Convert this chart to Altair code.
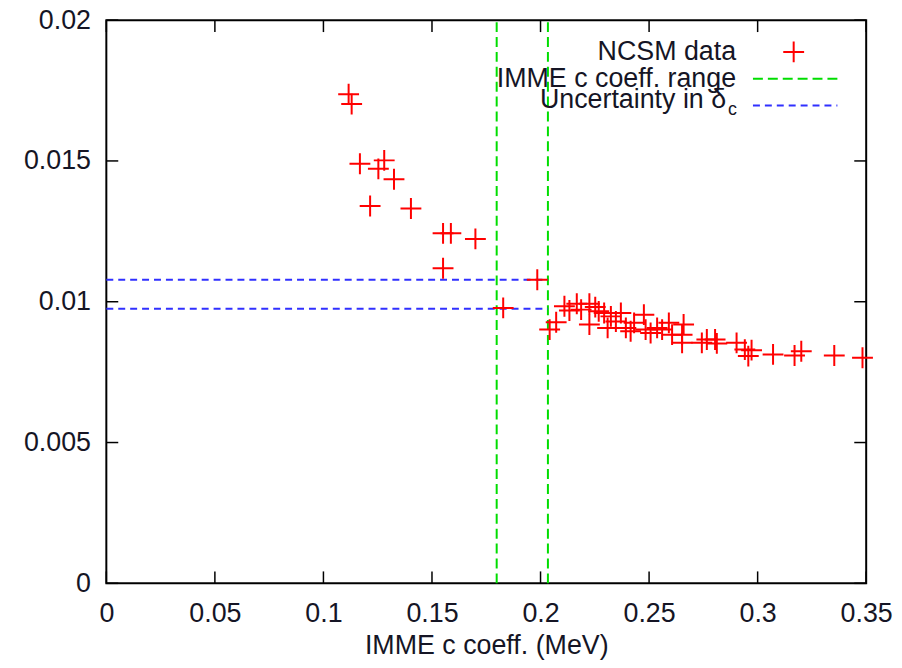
import altair as alt
import pandas as pd

# NCSM data points (IMME c coefficient in MeV, delta_c)
ncsm_x = [0.1116, 0.1130, 0.1168, 0.1280, 0.1253, 0.1325, 0.1215, 0.1403,
          0.1551, 0.1587, 0.1700, 0.1551, 0.1985, 0.1828,
          0.2042, 0.2072, 0.2110, 0.2133, 0.2167, 0.2187, 0.2225, 0.2225,
          0.2252, 0.2268, 0.2293, 0.2309, 0.2324, 0.2347, 0.2370, 0.2393,
          0.2415, 0.2431, 0.2476, 0.2484, 0.2507, 0.2537, 0.2560, 0.2591,
          0.2606, 0.2652, 0.2659, 0.2652, 0.2743, 0.2766, 0.2804, 0.2812,
          0.2903, 0.2941, 0.2957, 0.2972, 0.3071, 0.3170, 0.3201, 0.3353,
          0.3483]
ncsm_y = [0.01737, 0.01702, 0.01490, 0.01502, 0.01472, 0.01435, 0.01340, 0.01331,
          0.01243, 0.01243, 0.01223, 0.01119, 0.01078, 0.00978,
          0.00901, 0.00927, 0.00984, 0.00969, 0.00993, 0.00972, 0.00993, 0.00919,
          0.00981, 0.00966, 0.00960, 0.00907, 0.00948, 0.00930, 0.00960, 0.00907,
          0.00895, 0.00925, 0.00954, 0.00901, 0.00889, 0.00907, 0.00901, 0.00925,
          0.00883, 0.00883, 0.00919, 0.00854, 0.00854, 0.00866, 0.00866, 0.00852,
          0.00854, 0.00830, 0.00807, 0.00828, 0.00813, 0.00809, 0.00824, 0.00809,
          0.00801]

# IMME c coefficient range (vertical lines)
c_range = [0.1798, 0.2034]
# Uncertainty in delta_c (horizontal lines)
delta_range = [0.01078, 0.00975]

x_ticks = [0, 0.05, 0.1, 0.15, 0.2, 0.25, 0.3, 0.35]
y_ticks = [0, 0.005, 0.01, 0.015, 0.02]

legend_labels = ["NCSM data", "IMME c coeff. range", "Uncertainty in δ"]

FONT = "Liberation Sans"
FS = 27
TXT = "#151525"
RED = "#ff0000"
GREEN = "#00dd00"
BLUE = "#3030ff"
PLUS = "M-1,0L1,0M0,-1L0,1"

xs = alt.Scale(domain=[0, 0.35], nice=False, zero=False)
ys = alt.Scale(domain=[0, 0.02], nice=False, zero=False)

xaxis = alt.Axis(values=x_ticks, format="~g", ticks=False, domain=False, grid=False,
                 labelFont=FONT, labelFontSize=FS, labelColor=TXT, labelPadding=17,
                 labelFlush=False, title="IMME c coeff. (MeV)", titleFont=FONT,
                 titleFontSize=FS, titleFontWeight="normal", titleColor=TXT,
                 titlePadding=7)
yaxis = alt.Axis(values=y_ticks, format="~g", ticks=False, domain=False, grid=False,
                 labelFont=FONT, labelFontSize=FS, labelColor=TXT, labelPadding=16,
                 labelFlush=False, title=None)

X = lambda f="x": alt.X(f"{f}:Q", scale=xs, axis=xaxis)
Y = lambda f="y": alt.Y(f"{f}:Q", scale=ys, axis=yaxis)

pts = pd.DataFrame({"x": ncsm_x, "y": ncsm_y})
vlines = pd.DataFrame({"x": c_range, "y": [0, 0], "y2": [0.02, 0.02]})
hlines = pd.DataFrame({"x": [0, 0], "x2": [c_range[1], c_range[1]], "y": delta_range})
xt = pd.DataFrame({"x": x_ticks})
yt = pd.DataFrame({"y": y_ticks})
one = pd.DataFrame({"a": [0]})

W, H = 765, 567
TL = 12

green_layer = alt.Chart(vlines).mark_rule(color=GREEN, strokeWidth=2, strokeDash=[10, 5]).encode(
    x=X(), y=Y(), y2="y2:Q")
blue_layer = alt.Chart(hlines).mark_rule(color=BLUE, strokeWidth=2, strokeDash=[7, 5]).encode(
    x=X(), x2="x2:Q", y=Y())
pts_layer = alt.Chart(pts).mark_point(shape=PLUS, filled=False, color=RED, size=441,
                                      strokeWidth=2, opacity=1).encode(x=X(), y=Y())

tick_style = dict(color="black", strokeWidth=1.5)
tb = alt.Chart(xt).mark_rule(**tick_style).encode(x=X(), y=alt.value(H), y2=alt.value(H - TL))
tt = alt.Chart(xt).mark_rule(**tick_style).encode(x=X(), y=alt.value(0), y2=alt.value(TL))
tl = alt.Chart(yt).mark_rule(**tick_style).encode(y=Y(), x=alt.value(0), x2=alt.value(TL))
tr = alt.Chart(yt).mark_rule(**tick_style).encode(y=Y(), x=alt.value(W), x2=alt.value(W - TL))

# legend (gnuplot style, inside top right)
tx = dict(font=FONT, fontSize=FS, color=TXT, align="right", baseline="alphabetic")
leg1 = alt.Chart(one).mark_text(text=legend_labels[0], **tx).encode(x=alt.value(634), y=alt.value(40))
leg2 = alt.Chart(one).mark_text(text=legend_labels[1], **tx).encode(x=alt.value(634), y=alt.value(67))
leg3 = alt.Chart(one).mark_text(text=legend_labels[2], **tx).encode(x=alt.value(624), y=alt.value(88))
leg3s = alt.Chart(one).mark_text(text="c", font=FONT, fontSize=18, color=TXT, align="left",
                                 baseline="alphabetic").encode(x=alt.value(626), y=alt.value(95))
legp = alt.Chart(one).mark_point(shape=PLUS, filled=False, color=RED, size=441, strokeWidth=2,
                                 opacity=1).encode(x=alt.value(692), y=alt.value(32))
legg = alt.Chart(one).mark_rule(color=GREEN, strokeWidth=2, strokeDash=[10, 5]).encode(
    x=alt.value(651), x2=alt.value(736), y=alt.value(59))
legb = alt.Chart(one).mark_rule(color=BLUE, strokeWidth=2, strokeDash=[7, 5]).encode(
    x=alt.value(651), x2=alt.value(736), y=alt.value(86))

chart = alt.layer(
    green_layer, blue_layer, pts_layer, tb, tt, tl, tr,
    leg1, leg2, leg3, leg3s, legp, legg, legb
).properties(
    width=W, height=H,
    padding={"left": 99, "top": 10, "right": 28, "bottom": 80},
    autosize=alt.AutoSizeParams(type="none"),
    background="white",
).configure_view(stroke="black", strokeWidth=2)

chart.save("out.html", embed_options={"renderer": "svg", "actions": False})
